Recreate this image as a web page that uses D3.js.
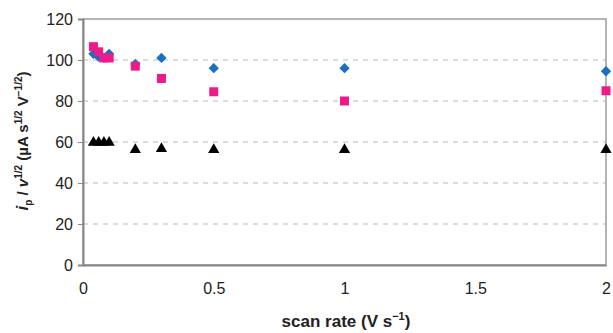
<!DOCTYPE html>
<html>
<head>
<meta charset="utf-8">
<script src="https://cdn.jsdelivr.net/npm/d3@7"></script>
<style>
  body { margin: 0; background: #fff; }
  svg { font-family: "Liberation Sans", Arial, sans-serif; }
</style>
</head>
<body>
<script>
/*
*    scan rate plot
*/

var width = 613;
var height = 333;
var margin = {top: 19, right: 7, bottom: 68, left: 83};

// data
var scanRates = [0.04, 0.06, 0.08, 0.1, 0.2, 0.3, 0.5, 1, 2];
var blueVals = [103, 101.5, 101, 103, 98, 101, 96, 96, 94.5];
var pinkVals = [106.5, 104, 101, 101, 97, 91, 84.5, 80, 85];
var blackVals = [59.5, 59.5, 59.5, 59.5, 56, 56.5, 56, 56, 56];
var yTicks = [0, 20, 40, 60, 80, 100, 120];
var xTicks = [0, 0.5, 1, 1.5, 2];

var innerWidth = width - margin.left - margin.right;
var innerHeight = height - margin.top - margin.bottom;

//Scales
var x = d3.scaleLinear().domain([0, 2]).range([0, innerWidth]);
var y = d3.scaleLinear().domain([0, 120]).range([innerHeight, 0]);

const svg = d3.select("body").append("svg")
    .attr("width", width)
    .attr("height", height);
const g = svg.append("g")
    .attr("transform", "translate(" + margin.left + ", " + margin.top + ")");

// gridlines
g.selectAll(".grid")
    .data(yTicks.filter(d => d > 0 && d < 120))
    .enter().append("line")
        .attr("x1", 0).attr("x2", innerWidth)
        .attr("y1", d => y(d)).attr("y2", d => y(d))
        .attr("stroke", "#b8b8b8")
        .attr("stroke-width", 1)
        .attr("stroke-dasharray", "5,5");

// frame
g.append("rect")
    .attr("width", innerWidth).attr("height", innerHeight)
    .attr("fill", "none")
    .attr("stroke", "#a09c9a")
    .attr("stroke-width", 1.5);

// axes
var leftAxis = d3.axisLeft(y).tickValues(yTicks).tickSize(5).tickPadding(5);
var yAx = g.append("g").call(leftAxis);
yAx.select(".domain").attr("stroke", "#8a8684").attr("stroke-width", 2);
yAx.selectAll("line").attr("stroke", "#8a8684");
yAx.selectAll("text").attr("font-size", 16).attr("fill", "#222");

var bottomAxis = d3.axisBottom(x).tickValues(xTicks).tickSize(0).tickPadding(18)
    .tickFormat(d => d);
var xAx = g.append("g")
    .attr("transform", "translate(0, " + innerHeight + ")")
    .call(bottomAxis);
xAx.select(".domain").attr("stroke", "#8a8684").attr("stroke-width", 2);
xAx.selectAll("text").attr("font-size", 16).attr("fill", "#222");

// points
var pts = scanRates.map((d, i) => ({x: d, b: blueVals[i], p: pinkVals[i], k: blackVals[i]}));

g.selectAll(".blue").data(pts).enter().append("path")
    .attr("d", d3.symbol().type(d3.symbolDiamond2).size(68))
    .attr("transform", d => "translate(" + x(d.x) + "," + y(d.b) + ")")
    .attr("fill", "#1a6fc0");

g.selectAll(".pink").data(pts).enter().append("rect")
    .attr("x", d => x(d.x) - 4.5).attr("y", d => y(d.p) - 4.5)
    .attr("width", 9).attr("height", 9)
    .attr("fill", "#ee1a8c");

g.selectAll(".black").data(pts).enter().append("path")
    .attr("d", d3.symbol().type(d3.symbolTriangle).size(55))
    .attr("transform", d => "translate(" + x(d.x) + "," + (y(d.k) - 0.5) + ")")
    .attr("fill", "#000");

// axis titles
svg.append("text")
    .attr("x", 346)
    .attr("y", 327)
    .attr("text-anchor", "middle")
    .attr("font-size", 17)
    .attr("font-weight", "bold")
    .attr("fill", "#222")
    .html('scan rate (V s<tspan dy="-7" font-size="11">−1</tspan><tspan dy="7">)</tspan>');

svg.append("text")
    .attr("transform", "translate(28,141) rotate(-90)")
    .attr("text-anchor", "middle")
    .attr("font-size", 15)
    .attr("font-weight", "bold")
    .attr("fill", "#222")
    .html('<tspan font-style="italic" font-size="17">i</tspan><tspan dy="4" font-size="10">p</tspan>' +
          '<tspan dy="-4"> / </tspan><tspan font-style="italic">v</tspan>' +
          '<tspan dy="-6" font-size="10">1/2</tspan><tspan dy="6"> (µA s</tspan>' +
          '<tspan dy="-6" font-size="10">1/2</tspan><tspan dy="6"> V</tspan>' +
          '<tspan dy="-6" font-size="10">−1/2</tspan><tspan dy="6">)</tspan>');
</script>
</body>
</html>
